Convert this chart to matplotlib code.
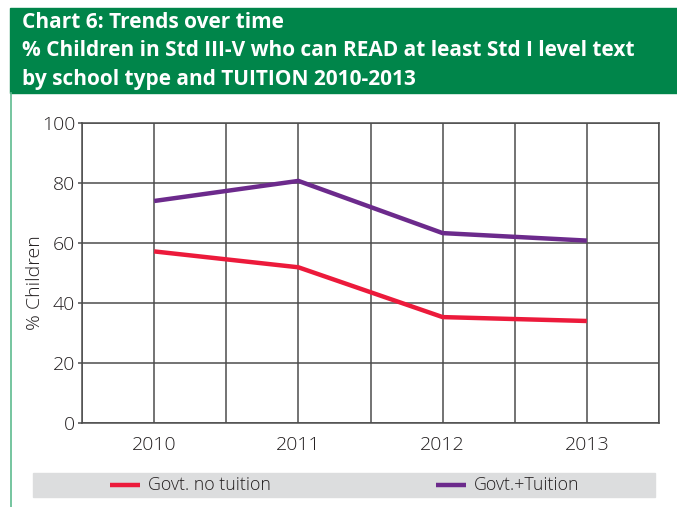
#!/usr/bin/env python3
"""Chart 6: reading trends by school type and tuition, 2010-2013."""

import matplotlib
matplotlib.use('Agg')
import matplotlib.pyplot as plt
from matplotlib.patches import Rectangle
from matplotlib.lines import Line2D

# Data
years = ['2010', '2011', '2012', '2013']
govt_no_tuition = [57.2, 51.9, 35.3, 34.0]
govt_tuition = [74.0, 80.7, 63.3, 60.8]
series_labels = ['Govt. no tuition', 'Govt.+Tuition']
y_ticks = [0, 20, 40, 60, 80, 100]

RED = '#EC1A3B'
PURPLE = '#6C2A8C'
GREEN = '#00854A'
TEXT = '#231F20'
GRID = '#4D4D4D'

plt.rcParams['font.family'] = ['Open Sans', 'DejaVu Sans']

W, H = 677, 507
fig = plt.figure(figsize=(W / 100, H / 100), dpi=100)

# Header box and left rule
fig.patches.append(Rectangle((10 / W, 1 - 93 / H), 1 - 10 / W, 85 / H,
                             transform=fig.transFigure, color=GREEN, zorder=0))
fig.add_artist(Line2D([10.5 / W, 10.5 / W], [0, 1 - 93 / H], transform=fig.transFigure,
                      color='#5DBB8F', linewidth=1.2))
title_lines = ['Chart 6: Trends over time',
               '% Children in Std III-V who can READ at least Std I level text',
               'by school type and TUITION 2010-2013']
for i, line in enumerate(title_lines):
    fig.text(22 / W, 1 - (23 + 28 * i) / H, line, color='white', fontsize=15,
             fontweight='bold', ha='left', va='center')

# Plot area
ax = fig.add_axes([82 / W, 1 - 423 / H, 577 / W, 300 / H])
x = list(range(len(years)))
ax.plot(x, govt_no_tuition, color=RED, linewidth=3.2, solid_capstyle='butt', zorder=3)
ax.plot(x, govt_tuition, color=PURPLE, linewidth=3.2, solid_capstyle='butt', zorder=3)

ax.set_xlim(-0.5, 3.5)
ax.set_ylim(0, 100)
ax.set_yticks(y_ticks)
ax.set_xticks(x)
ax.set_xticklabels(years)
ax.set_xticks([-0.5 + 0.5 * i for i in range(9)], minor=True)
ax.grid(True, which='both', axis='x', color=GRID, linewidth=1.1)
ax.grid(True, which='major', axis='y', color=GRID, linewidth=1.1)
ax.tick_params(axis='x', which='both', length=0, labelsize=14, colors=TEXT, pad=9)
ax.tick_params(axis='y', length=3, width=1.1, color=GRID, labelsize=14,
               labelcolor=TEXT, pad=2)
for lab in ax.get_xticklabels() + ax.get_yticklabels():
    lab.set_fontweight('light')
for s in ax.spines.values():
    s.set_color(GRID)
    s.set_linewidth(1.1)
ax.set_ylabel('% Children', fontsize=14, color=TEXT, fontweight='light')
ax.yaxis.set_label_coords(-0.066, 0.467)

# Legend strip
fig.patches.append(Rectangle((33 / W, 1 - 497 / H), 622 / W, 24 / H,
                             transform=fig.transFigure, color='#DCDDDE', zorder=0))
for x0, col, lab in [(110, RED, series_labels[0]), (436, PURPLE, series_labels[1])]:
    yc = 1 - 485 / H
    fig.add_artist(Line2D([x0 / W, (x0 + 30) / W], [yc, yc], transform=fig.transFigure,
                          color=col, linewidth=3.2, solid_capstyle='butt'))
    fig.text((x0 + 38) / W, yc, lab, fontsize=12.8, color=TEXT, ha='left',
             va='center', fontweight='light')

plt.savefig('out.png', dpi=100)
